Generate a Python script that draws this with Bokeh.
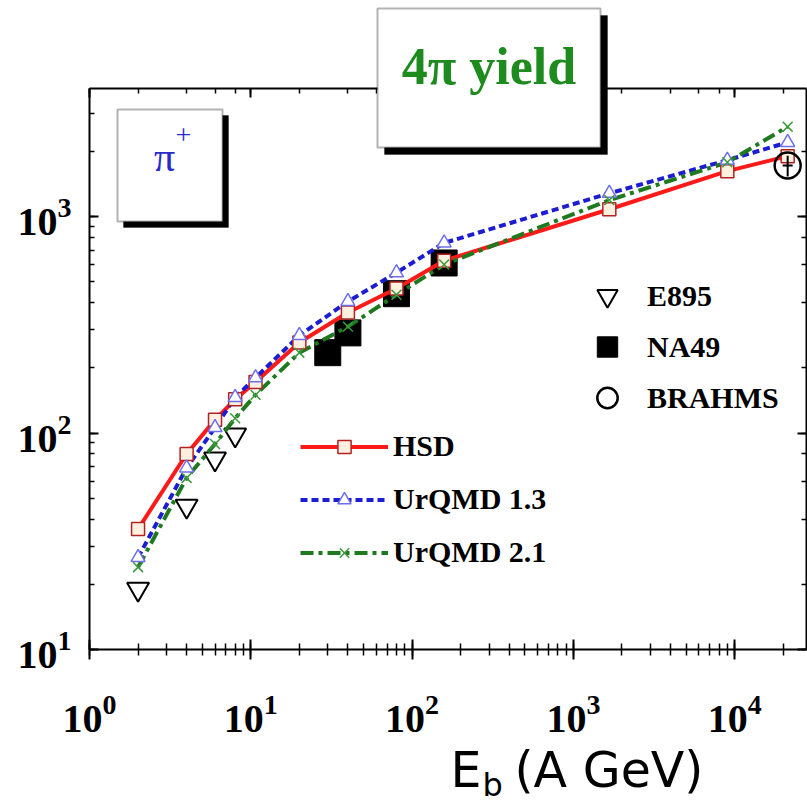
from bokeh.plotting import figure
from bokeh.models import (Range1d, LogAxis, Legend, LegendItem, Label, BoxAnnotation,
                          CustomJSTickFormatter, ColumnDataSource)
from bokeh.embed import file_html
from bokeh.resources import INLINE

# ---------------- data ----------------
energies = [2, 4, 6, 8, 10.7, 20, 40, 80, 158, 1670, 9000, 21300]
hsd      = [36, 80, 115, 143, 172, 262, 360, 465, 625, 1080, 1620, 1900]
urqmd13  = [26.6, 69, 106, 146, 180, 282, 405, 550, 755, 1280, 1820, 2200]
urqmd21  = [24, 62, 89, 117, 150, 235, 310, 435, 600, 1190, 1780, 2600]

e895_x = [2, 4, 6, 8]
e895_y = [19, 46, 76, 98]
na49_x = [30, 40, 80, 158]
na49_y = [235, 290, 440, 610]
brahms_x = [21300]
brahms_y = [1720]
brahms_err = [190]

model_labels = ["HSD", "UrQMD 1.3", "UrQMD 2.1"]
data_labels = ["E895", "NA49", "BRAHMS"]

# ---------------- geometry ----------------
# The frame covers the whole canvas; the visible axes sit at fixed data locations,
# so that captions overlapping the axes are not clipped.
W, H = 807, 805
AX_L, AX_R, AX_T, AX_B = 89, 806, 88, 649   # canvas pixels of the drawn axes
XDEC, YDEC = 161.3, 216.5                   # pixels per decade
X0, Y0 = 1.0, 10.0                          # data values at the left / bottom axes
X_RIGHT = X0 * 10 ** ((AX_R - AX_L) / XDEC)
Y_TOP = Y0 * 10 ** ((AX_B - AX_T) / YDEC)

x_range = Range1d(X0 * 10 ** (-AX_L / XDEC), X0 * 10 ** ((W - AX_L) / XDEC))
y_range = Range1d(Y0 * 10 ** (-(H - AX_B) / YDEC), Y0 * 10 ** (AX_B / YDEC))

def sx(px):   # canvas pixel -> screen x inside the frame (annotation placement only)
    return px

def sy(py):   # canvas pixel -> screen y measured up from the frame bottom
    return H - py

p = figure(width=W, height=H, x_axis_type="log", y_axis_type="log",
           x_range=x_range, y_range=y_range,
           output_backend="svg", toolbar_location=None,
           min_border_left=0, min_border_right=0, min_border_top=0, min_border_bottom=0)
p.title.visible = False
p.grid.visible = False
p.outline_line_color = None
p.background_fill_color = "white"
p.border_fill_color = "white"

def style_axis(ax, mi, mo, ni, no):
    ax.axis_line_color = "black"
    ax.axis_line_width = 2
    ax.major_tick_line_color = "black"
    ax.major_tick_line_width = 2
    ax.minor_tick_line_color = "black"
    ax.minor_tick_line_width = 1.5
    ax.major_tick_in, ax.major_tick_out = mi, mo
    ax.minor_tick_in, ax.minor_tick_out = ni, no
    ax.major_label_text_font = "Liberation Serif"
    ax.major_label_text_font_style = "bold"
    ax.major_label_text_font_size = "40px"
    ax.major_label_text_color = "black"

xb = p.xaxis[0]
style_axis(xb, 10, 10, 6, 6)
xb.major_label_standoff = 35
xb.fixed_location = Y0
xb.bounds = (X0, X_RIGHT)

yl = p.yaxis[0]
style_axis(yl, 9, 0, 5, 0)
yl.major_label_standoff = 18
yl.fixed_location = X0
yl.bounds = (Y0, Y_TOP)

blank = CustomJSTickFormatter(code="return ''")
top = LogAxis(formatter=blank, fixed_location=Y_TOP, bounds=(X0, X_RIGHT))
style_axis(top, 9, 0, 5, 0)
top.major_label_text_font_size = "1px"
top.major_label_standoff = 0
p.add_layout(top, "above")
right = LogAxis(formatter=blank, fixed_location=X_RIGHT, bounds=(Y0, Y_TOP))
style_axis(right, 9, 0, 5, 0)
right.major_label_text_font_size = "1px"
right.major_label_standoff = 0
p.add_layout(right, "right")

# ---------------- data points ----------------
na49_r = p.scatter(na49_x, na49_y, marker="square", size=26,
                   fill_color="black", line_color="black")
e895_r = p.scatter(e895_x, e895_y, marker="inverted_triangle", size=22,
                   fill_color="white", fill_alpha=0, line_color="black", line_width=2)

# ---------------- model curves ----------------
red, blue, green = "#ff1a1a", "#1c1cd0", "#1f7a1f"
src = ColumnDataSource(dict(e=energies, hsd=hsd, u13=urqmd13, u21=urqmd21))

hsd_l = p.line("e", "hsd", source=src, line_color=red, line_width=4)
u13_l = p.line("e", "u13", source=src, line_color=blue, line_width=4, line_dash="7 4")
u21_l = p.line("e", "u21", source=src, line_color=green, line_width=4, line_dash="13 5 4 5")
hsd_m = p.scatter("e", "hsd", source=src, marker="square", size=13,
                  fill_color="#fff0e0", line_color="#b22222", line_width=1.5)
u13_m = p.scatter("e", "u13", source=src, marker="triangle", size=14,
                  fill_color="white", line_color="#6f6fee", line_width=1.5)
u21_m = p.scatter("e", "u21", source=src, marker="x", size=14,
                  line_color="#3a9a3a", line_width=1.5)

# BRAHMS point with error bar
b_lo = [y - e for y, e in zip(brahms_y, brahms_err)]
b_hi = [y + e for y, e in zip(brahms_y, brahms_err)]
p.segment(brahms_x, b_lo, brahms_x, b_hi, line_color="black", line_width=2)
p.scatter(brahms_x, brahms_y, marker="dash", size=10, line_color="black", line_width=2)
brahms_r = p.scatter(brahms_x, brahms_y, marker="circle", size=26,
                     fill_alpha=0, line_color="black", line_width=2.5)

# ---------------- legends ----------------
leg_font = dict(label_text_font="Liberation Serif", label_text_font_style="bold",
                label_text_font_size="30px", label_text_color="black")
model_leg = Legend(items=[LegendItem(label=model_labels[0], renderers=[hsd_l, hsd_m]),
                          LegendItem(label=model_labels[1], renderers=[u13_l, u13_m]),
                          LegendItem(label=model_labels[2], renderers=[u21_l, u21_m])],
                   location=(300, H - AX_B + 80), glyph_width=88, glyph_height=33, label_height=33,
                   label_standoff=5, spacing=19, padding=0, margin=0,
                   border_line_color=None, background_fill_alpha=0, **leg_font)
p.add_layout(model_leg)
data_leg = Legend(items=[LegendItem(label=data_labels[0], renderers=[e895_r]),
                         LegendItem(label=data_labels[1], renderers=[na49_r]),
                         LegendItem(label=data_labels[2], renderers=[brahms_r])],
                  location=(577, H - AX_B + 226), glyph_width=60, glyph_height=51, label_height=51,
                  label_standoff=10, spacing=0, padding=0, margin=0,
                  border_line_color=None, background_fill_alpha=0, **leg_font)
p.add_layout(data_leg)

# ---------------- boxed captions ----------------
scr = dict(left_units="screen", right_units="screen", top_units="screen", bottom_units="screen")

def framed_box(l, t, r, b, sh):
    p.add_layout(BoxAnnotation(left=sx(l + sh), right=sx(r + sh), top=sy(t + sh), bottom=sy(b + sh),
                               fill_color="black", fill_alpha=1, line_color="black", level="overlay", **scr))
    p.add_layout(BoxAnnotation(left=sx(l), right=sx(r), top=sy(t), bottom=sy(b),
                               fill_color="white", fill_alpha=1, line_color="black", line_width=2,
                               level="overlay", **scr))

def label(txt, px, baseline, fs, **kw):
    # the text box is anchored about 0.4 em above the glyph baseline
    p.add_layout(Label(x=sx(px), y=sy(baseline - 0.4 * fs), x_units="screen", y_units="screen",
                       text=txt, text_baseline="alphabetic", text_font_size=f"{fs}px",
                       level="overlay", **kw))

framed_box(377, 8, 600, 147, 7)
label("4π yield", 488.5, 87, 52, text_align="center", text_font="Liberation Serif",
      text_font_style="bold", text_color="#1e8b1e")

framed_box(117, 109, 222, 221, 6)
label("π", 164, 173, 42, text_align="center", text_font="Liberation Serif",
      text_color="#2a2acc")
label("+", 183, 146, 28, text_align="center", text_font="Liberation Serif",
      text_color="#2a2acc")

# ---------------- axis title E_b (A GeV) ----------------
for txt, px, base, fs in [("E", 450, 790, 49), ("b", 482, 797, 32), ("(A GeV)", 514, 790, 49)]:
    label(txt, px, base, fs, text_align="left", text_font="DejaVu Sans", text_color="black")

open("out.html", "w").write(file_html(p, INLINE))
